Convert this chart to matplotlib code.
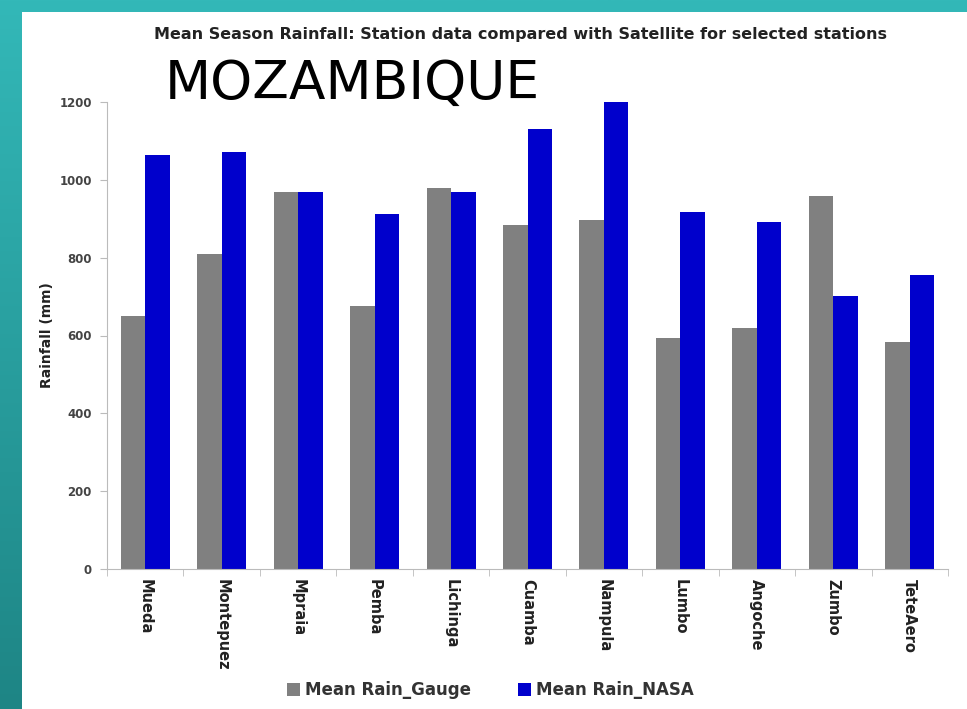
import numpy as np
import matplotlib
matplotlib.use("Agg")
import matplotlib.pyplot as plt
from matplotlib.patches import Rectangle
from matplotlib.colors import LinearSegmentedColormap

stations = ["Mueda", "Montepuez", "Mpraia", "Pemba", "Lichinga", "Cuamba",
            "Nampula", "Lumbo", "Angoche", "Zumbo", "TeteAero"]
rain_gauge = [650, 809, 969, 676, 980, 883, 897, 593, 620, 958, 584]
rain_nasa = [1064, 1072, 969, 912, 969, 1130, 1200, 918, 892, 701, 755]
yticks = [0, 200, 400, 600, 800, 1000, 1200]

fig = plt.figure(figsize=(9.67, 7.09), dpi=100)

# teal gradient background
bg = fig.add_axes([0, 0, 1, 1], zorder=-10)
grad = np.linspace(0, 1, 256).reshape(-1, 1)
cmap = LinearSegmentedColormap.from_list("teal", ["#1e8585", "#33b8b8"])
bg.imshow(grad, aspect="auto", cmap=cmap, extent=[0, 1, 0, 1], origin="lower")
bg.add_patch(Rectangle((22 / 967, 0), 1, 1 - 12 / 709, facecolor="white",
                       edgecolor="none"))
bg.set_xlim(0, 1)
bg.set_ylim(0, 1)
bg.axis("off")

ax = fig.add_axes([107 / 967, 1 - 569 / 709, (948 - 107) / 967, (569 - 102) / 709])
ax.set_facecolor("none")
x = np.arange(len(stations))
w = 0.32
ax.bar(x - w / 2, rain_gauge, width=w, color="#808080", label="Mean Rain_Gauge")
ax.bar(x + w / 2, rain_nasa, width=w, color="#0000CC", label="Mean Rain_NASA")

ax.set_xlim(-0.5, len(stations) - 0.5)
ax.set_ylim(0, 1200)
ax.set_yticks(yticks)
ax.set_yticklabels([str(v) for v in yticks], fontsize=8.5, color="#444444",
                   fontweight="bold")
ax.set_xticks(x)
ax.set_xticklabels(stations, rotation=270, fontsize=10.5, color="#222222",
                   fontweight="bold", va="top", ha="center")
ax.set_xticks(np.arange(-0.5, len(stations), 1), minor=True)
ax.tick_params(axis="x", which="major", length=0, pad=7)
ax.tick_params(axis="x", which="minor", length=5, color="#bbbbbb", direction="out")
ax.tick_params(axis="y", length=5, color="#bbbbbb", direction="out", pad=6)
for s in ["top", "right"]:
    ax.spines[s].set_visible(False)
ax.spines["left"].set_color("#bbbbbb")
ax.spines["bottom"].set_color("#bbbbbb")

ax.set_ylabel("Rainfall (mm)", fontsize=10, fontweight="bold", color="#222222",
              labelpad=4)

fig.text(0.538, 1 - 34 / 709, "Mean Season Rainfall: Station data compared with Satellite for selected stations",
         ha="center", va="center", fontsize=11.5, fontweight="bold", color="#222222")
fig.text(165 / 967, 1 - 84 / 709, "MOZAMBIQUE", ha="left", va="center",
         fontsize=38.5, color="black")

leg = fig.legend(loc="center", bbox_to_anchor=(0.507, 1 - 690 / 709), ncol=2,
                 frameon=False, handlelength=0.8, handleheight=0.8,
                 handletextpad=0.3, columnspacing=2.8,
                 prop={"weight": "bold", "size": 12})
for t in leg.get_texts():
    t.set_color("#333333")

fig.savefig("out.png", dpi=100)
